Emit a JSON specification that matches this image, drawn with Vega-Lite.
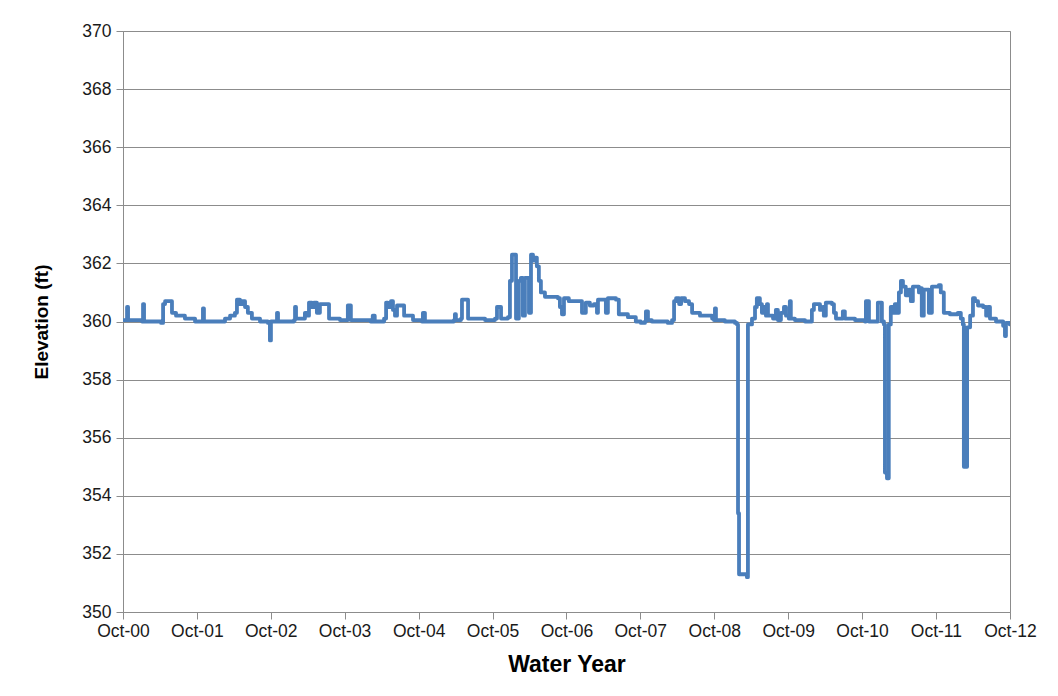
{
  "$schema": "https://vega.github.io/schema/vega-lite/v6.json",
  "width": 887,
  "height": 581,
  "autosize": {"type": "none"},
  "padding": {"left": 123, "top": 31, "right": 48, "bottom": 84},
  "background": "white",
  "config": {
    "font": "Liberation Sans",
    "view": {"stroke": "#8c8c8c", "strokeWidth": 1}
  },
  "data": {"values": [
    {"date": "2000-10-01", "elev": 360.05},
    {"date": "2000-10-16", "elev": 360.05},
    {"date": "2000-10-21", "elev": 360.5},
    {"date": "2000-10-26", "elev": 360.05},
    {"date": "2001-01-03", "elev": 360.0},
    {"date": "2001-01-08", "elev": 360.6},
    {"date": "2001-01-13", "elev": 360.0},
    {"date": "2001-04-07", "elev": 359.95},
    {"date": "2001-04-17", "elev": 360.6},
    {"date": "2001-04-27", "elev": 360.7},
    {"date": "2001-05-21", "elev": 360.7},
    {"date": "2001-05-31", "elev": 360.3},
    {"date": "2001-06-20", "elev": 360.2},
    {"date": "2001-08-03", "elev": 360.1},
    {"date": "2001-09-22", "elev": 360.0},
    {"date": "2001-10-26", "elev": 360.0},
    {"date": "2001-10-31", "elev": 360.45},
    {"date": "2001-11-05", "elev": 360.0},
    {"date": "2001-12-29", "elev": 360.0},
    {"date": "2002-02-17", "elev": 360.1},
    {"date": "2002-03-14", "elev": 360.2},
    {"date": "2002-04-07", "elev": 360.3},
    {"date": "2002-04-17", "elev": 360.75},
    {"date": "2002-05-02", "elev": 360.6},
    {"date": "2002-05-12", "elev": 360.7},
    {"date": "2002-05-27", "elev": 360.5},
    {"date": "2002-06-10", "elev": 360.3},
    {"date": "2002-06-30", "elev": 360.1},
    {"date": "2002-08-09", "elev": 360.0},
    {"date": "2002-09-17", "elev": 359.95},
    {"date": "2002-09-27", "elev": 359.35},
    {"date": "2002-10-02", "elev": 360.0},
    {"date": "2002-10-27", "elev": 360.0},
    {"date": "2002-11-01", "elev": 360.3},
    {"date": "2002-11-06", "elev": 360.0},
    {"date": "2003-01-24", "elev": 360.05},
    {"date": "2003-01-29", "elev": 360.5},
    {"date": "2003-02-03", "elev": 360.1},
    {"date": "2003-03-09", "elev": 360.1},
    {"date": "2003-03-19", "elev": 360.3},
    {"date": "2003-03-29", "elev": 360.2},
    {"date": "2003-04-08", "elev": 360.65},
    {"date": "2003-04-23", "elev": 360.5},
    {"date": "2003-05-02", "elev": 360.65},
    {"date": "2003-05-17", "elev": 360.3},
    {"date": "2003-06-01", "elev": 360.6},
    {"date": "2003-07-06", "elev": 360.6},
    {"date": "2003-07-16", "elev": 360.1},
    {"date": "2003-09-08", "elev": 360.05},
    {"date": "2003-10-12", "elev": 360.05},
    {"date": "2003-10-17", "elev": 360.55},
    {"date": "2003-10-27", "elev": 360.55},
    {"date": "2003-11-01", "elev": 360.05},
    {"date": "2004-02-07", "elev": 360.0},
    {"date": "2004-02-17", "elev": 360.2},
    {"date": "2004-02-27", "elev": 360.0},
    {"date": "2004-04-13", "elev": 360.1},
    {"date": "2004-04-23", "elev": 360.65},
    {"date": "2004-05-02", "elev": 360.5},
    {"date": "2004-05-17", "elev": 360.7},
    {"date": "2004-05-27", "elev": 360.4},
    {"date": "2004-06-06", "elev": 360.2},
    {"date": "2004-06-16", "elev": 360.55},
    {"date": "2004-07-11", "elev": 360.55},
    {"date": "2004-07-21", "elev": 360.2},
    {"date": "2004-08-19", "elev": 360.2},
    {"date": "2004-09-03", "elev": 360.05},
    {"date": "2004-10-17", "elev": 360.0},
    {"date": "2004-10-22", "elev": 360.3},
    {"date": "2004-11-01", "elev": 360.0},
    {"date": "2005-01-14", "elev": 360.0},
    {"date": "2005-03-24", "elev": 360.05},
    {"date": "2005-03-29", "elev": 360.25},
    {"date": "2005-04-03", "elev": 360.05},
    {"date": "2005-04-28", "elev": 360.1},
    {"date": "2005-05-03", "elev": 360.75},
    {"date": "2005-05-28", "elev": 360.75},
    {"date": "2005-06-02", "elev": 360.1},
    {"date": "2005-08-25", "elev": 360.05},
    {"date": "2005-10-13", "elev": 360.1},
    {"date": "2005-10-23", "elev": 360.5},
    {"date": "2005-11-07", "elev": 360.5},
    {"date": "2005-11-12", "elev": 360.1},
    {"date": "2005-12-16", "elev": 360.15},
    {"date": "2005-12-26", "elev": 361.4},
    {"date": "2006-01-05", "elev": 362.3},
    {"date": "2006-01-15", "elev": 362.3},
    {"date": "2006-01-25", "elev": 360.1},
    {"date": "2006-02-08", "elev": 361.4},
    {"date": "2006-02-18", "elev": 361.5},
    {"date": "2006-02-28", "elev": 360.2},
    {"date": "2006-03-10", "elev": 361.5},
    {"date": "2006-03-20", "elev": 361.5},
    {"date": "2006-03-30", "elev": 360.3},
    {"date": "2006-04-09", "elev": 362.3},
    {"date": "2006-04-19", "elev": 362.1},
    {"date": "2006-04-28", "elev": 362.2},
    {"date": "2006-05-08", "elev": 361.9},
    {"date": "2006-05-18", "elev": 361.4},
    {"date": "2006-05-28", "elev": 361.0},
    {"date": "2006-06-17", "elev": 360.85},
    {"date": "2006-08-20", "elev": 360.8},
    {"date": "2006-08-30", "elev": 360.5},
    {"date": "2006-09-09", "elev": 360.25},
    {"date": "2006-09-19", "elev": 360.8},
    {"date": "2006-10-13", "elev": 360.7},
    {"date": "2006-12-07", "elev": 360.7},
    {"date": "2006-12-17", "elev": 360.3},
    {"date": "2007-01-05", "elev": 360.65},
    {"date": "2007-01-25", "elev": 360.55},
    {"date": "2007-02-14", "elev": 360.6},
    {"date": "2007-03-01", "elev": 360.3},
    {"date": "2007-03-06", "elev": 360.75},
    {"date": "2007-04-09", "elev": 360.75},
    {"date": "2007-04-14", "elev": 360.3},
    {"date": "2007-04-24", "elev": 360.8},
    {"date": "2007-06-03", "elev": 360.75},
    {"date": "2007-06-17", "elev": 360.25},
    {"date": "2007-08-01", "elev": 360.15},
    {"date": "2007-09-09", "elev": 360.0},
    {"date": "2007-10-04", "elev": 359.95},
    {"date": "2007-10-24", "elev": 360.0},
    {"date": "2007-10-29", "elev": 360.35},
    {"date": "2007-11-08", "elev": 360.05},
    {"date": "2007-11-27", "elev": 360.0},
    {"date": "2008-01-06", "elev": 360.0},
    {"date": "2008-02-14", "elev": 359.95},
    {"date": "2008-03-06", "elev": 360.05},
    {"date": "2008-03-16", "elev": 360.7},
    {"date": "2008-03-26", "elev": 360.8},
    {"date": "2008-04-10", "elev": 360.6},
    {"date": "2008-04-20", "elev": 360.8},
    {"date": "2008-05-09", "elev": 360.7},
    {"date": "2008-05-29", "elev": 360.6},
    {"date": "2008-06-13", "elev": 360.3},
    {"date": "2008-07-22", "elev": 360.2},
    {"date": "2008-09-20", "elev": 360.1},
    {"date": "2008-09-29", "elev": 360.05},
    {"date": "2008-10-04", "elev": 360.45},
    {"date": "2008-10-09", "elev": 360.05},
    {"date": "2008-11-22", "elev": 360.0},
    {"date": "2009-01-11", "elev": 359.95},
    {"date": "2009-01-21", "elev": 359.9},
    {"date": "2009-01-26", "elev": 353.4},
    {"date": "2009-01-31", "elev": 351.3},
    {"date": "2009-03-11", "elev": 351.2},
    {"date": "2009-03-16", "elev": 359.9},
    {"date": "2009-04-05", "elev": 360.1},
    {"date": "2009-04-20", "elev": 360.5},
    {"date": "2009-04-29", "elev": 360.8},
    {"date": "2009-05-14", "elev": 360.6},
    {"date": "2009-05-24", "elev": 360.3},
    {"date": "2009-06-03", "elev": 360.5},
    {"date": "2009-06-13", "elev": 360.2},
    {"date": "2009-06-18", "elev": 360.6},
    {"date": "2009-06-23", "elev": 360.2},
    {"date": "2009-07-18", "elev": 360.1},
    {"date": "2009-08-01", "elev": 360.4},
    {"date": "2009-08-11", "elev": 360.05},
    {"date": "2009-08-26", "elev": 360.3},
    {"date": "2009-09-10", "elev": 360.5},
    {"date": "2009-09-20", "elev": 360.2},
    {"date": "2009-10-04", "elev": 360.1},
    {"date": "2009-10-09", "elev": 360.7},
    {"date": "2009-10-14", "elev": 360.1},
    {"date": "2009-11-03", "elev": 360.05},
    {"date": "2009-12-23", "elev": 360.0},
    {"date": "2010-01-16", "elev": 360.0},
    {"date": "2010-01-26", "elev": 360.4},
    {"date": "2010-02-05", "elev": 360.6},
    {"date": "2010-02-25", "elev": 360.6},
    {"date": "2010-03-07", "elev": 360.4},
    {"date": "2010-03-21", "elev": 360.5},
    {"date": "2010-03-26", "elev": 360.2},
    {"date": "2010-04-05", "elev": 360.65},
    {"date": "2010-05-05", "elev": 360.6},
    {"date": "2010-05-15", "elev": 360.3},
    {"date": "2010-05-25", "elev": 360.1},
    {"date": "2010-06-23", "elev": 360.1},
    {"date": "2010-06-28", "elev": 360.35},
    {"date": "2010-07-08", "elev": 360.1},
    {"date": "2010-08-27", "elev": 360.05},
    {"date": "2010-10-15", "elev": 360.0},
    {"date": "2010-10-20", "elev": 360.7},
    {"date": "2010-10-30", "elev": 360.7},
    {"date": "2010-11-04", "elev": 360.0},
    {"date": "2010-12-08", "elev": 360.0},
    {"date": "2010-12-18", "elev": 360.65},
    {"date": "2010-12-28", "elev": 360.65},
    {"date": "2011-01-07", "elev": 360.0},
    {"date": "2011-01-17", "elev": 359.9},
    {"date": "2011-01-22", "elev": 354.8},
    {"date": "2011-02-01", "elev": 354.6},
    {"date": "2011-02-10", "elev": 359.9},
    {"date": "2011-02-20", "elev": 360.5},
    {"date": "2011-03-02", "elev": 360.3},
    {"date": "2011-03-12", "elev": 360.6},
    {"date": "2011-03-22", "elev": 360.3},
    {"date": "2011-04-01", "elev": 361.0},
    {"date": "2011-04-11", "elev": 361.4},
    {"date": "2011-04-21", "elev": 361.2},
    {"date": "2011-05-05", "elev": 360.9},
    {"date": "2011-05-20", "elev": 361.1},
    {"date": "2011-05-30", "elev": 360.7},
    {"date": "2011-06-09", "elev": 361.2},
    {"date": "2011-06-29", "elev": 361.2},
    {"date": "2011-07-09", "elev": 361.0},
    {"date": "2011-07-19", "elev": 361.15},
    {"date": "2011-07-23", "elev": 360.2},
    {"date": "2011-08-02", "elev": 361.1},
    {"date": "2011-08-22", "elev": 361.1},
    {"date": "2011-08-27", "elev": 360.3},
    {"date": "2011-09-11", "elev": 361.2},
    {"date": "2011-10-15", "elev": 361.25},
    {"date": "2011-10-25", "elev": 361.0},
    {"date": "2011-11-09", "elev": 360.3},
    {"date": "2011-12-09", "elev": 360.25},
    {"date": "2012-01-17", "elev": 360.3},
    {"date": "2012-02-01", "elev": 360.1},
    {"date": "2012-02-11", "elev": 359.9},
    {"date": "2012-02-16", "elev": 355.0},
    {"date": "2012-02-26", "elev": 355.0},
    {"date": "2012-03-03", "elev": 359.8},
    {"date": "2012-03-18", "elev": 360.2},
    {"date": "2012-04-01", "elev": 360.8},
    {"date": "2012-04-11", "elev": 360.7},
    {"date": "2012-04-26", "elev": 360.55},
    {"date": "2012-05-21", "elev": 360.5},
    {"date": "2012-06-05", "elev": 360.2},
    {"date": "2012-06-14", "elev": 360.5},
    {"date": "2012-06-24", "elev": 360.1},
    {"date": "2012-07-24", "elev": 360.0},
    {"date": "2012-08-28", "elev": 359.85},
    {"date": "2012-09-06", "elev": 359.5},
    {"date": "2012-09-11", "elev": 359.95},
    {"date": "2012-09-30", "elev": 359.9}
  ]},
  "mark": {"type": "line", "color": "#4a7ebb", "strokeWidth": 3.8, "strokeJoin": "round", "strokeCap": "round", "interpolate": "step-after", "clip": true},
  "encoding": {
    "x": {
      "field": "date",
      "type": "temporal",
      "scale": {"domain": ["2000-10-01", "2012-10-01"], "nice": false},
      "axis": {
        "title": "Water Year",
        "values": ["2000-10-01", "2001-10-01", "2002-10-01", "2003-10-01", "2004-10-01", "2005-10-01", "2006-10-01", "2007-10-01", "2008-10-01", "2009-10-01", "2010-10-01", "2011-10-01", "2012-10-01"],
        "format": "%b-%y",
        "grid": false,
        "domainColor": "#8c8c8c",
        "tickColor": "#8c8c8c",
        "tickSize": 7,
        "labelFontSize": 17.5,
        "labelColor": "#1a1a1a",
        "labelPadding": 3,
        "labelFlush": false,
        "labelOverlap": false,
        "titleFontSize": 23,
        "titleFontWeight": "bold",
        "titleColor": "#000000",
        "titlePadding": 14
      }
    },
    "y": {
      "field": "elev",
      "type": "quantitative",
      "scale": {"domain": [350, 370], "nice": false, "zero": false},
      "axis": {
        "title": "Elevation (ft)",
        "values": [350, 352, 354, 356, 358, 360, 362, 364, 366, 368, 370],
        "grid": true,
        "gridColor": "#8c8c8c",
        "gridWidth": 1,
        "domainColor": "#8c8c8c",
        "tickColor": "#8c8c8c",
        "tickSize": 7,
        "labelFontSize": 17.5,
        "labelColor": "#1a1a1a",
        "labelPadding": 5,
        "titleFontSize": 19,
        "titleFontWeight": "bold",
        "titleColor": "#000000",
        "titlePadding": 30
      }
    }
  }
}
